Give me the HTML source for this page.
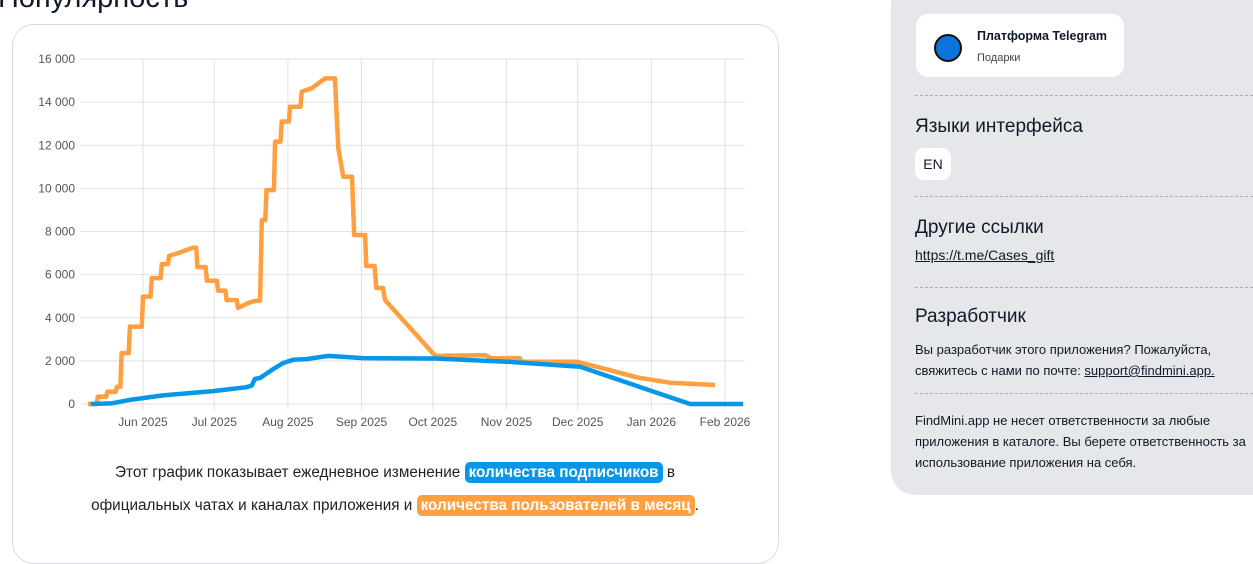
<!DOCTYPE html>
<html><head><meta charset="utf-8">
<style>
*{margin:0;padding:0;box-sizing:border-box}
body{width:1253px;height:531px;overflow:hidden;background:#fff;font-family:"Liberation Sans","DejaVu Sans",sans-serif;color:#111827;position:relative}
.abs{position:absolute}
.title{left:-2px;top:-18px;font-size:29px;white-space:nowrap}
.card{left:12px;top:24px;width:767px;height:540px;border:1px solid #d9dbe0;border-radius:22px}
.panel{left:891px;top:-20px;width:400px;height:515px;background:#e5e7eb;border-radius:24px}
.dash{left:915px;width:338px;border-top:1px dashed #a8adb5;height:0}
.h{left:915px;font-size:19px;color:#111827;white-space:nowrap}
.p{left:915px;font-size:13px;line-height:21px;color:#111827;width:340px}
.pill{color:#fff;border-radius:5px;padding:2px 4px;font-weight:bold}
.cap{left:20px;width:750px;text-align:center;font-size:15.3px;color:#222;white-space:nowrap}
</style></head><body>
<div class="abs title">Популярность</div>
<div class="abs card"></div>
<svg class="abs" style="left:0;top:0" width="790" height="440" id="chart"></svg>
<div class="abs cap" style="top:464px">Этот график показывает ежедневное изменение <span class="pill" style="background:#0896e6">количества подписчиков</span> в</div>
<div class="abs cap" style="top:497px">официальных чатах и каналах приложения и <span class="pill" style="background:#ff9f40">количества пользователей в месяц</span>.</div>

<div class="abs panel"></div>
<div class="abs" style="left:916px;top:14px;width:208px;height:63px;background:#fff;border-radius:12px">
  <div class="abs" style="left:18px;top:20px;width:28px;height:28px;border-radius:50%;background:#0a74d9;border:2px solid #111"></div>
  <div class="abs" style="left:61px;top:15px;font-size:12.5px;font-weight:bold;white-space:nowrap">Платформа Telegram</div>
  <div class="abs" style="left:61px;top:38px;font-size:11px;color:#444">Подарки</div>
</div>
<div class="abs dash" style="top:95px"></div>
<div class="abs h" style="top:116px">Языки интерфейса</div>
<div class="abs" style="left:915px;top:148px;width:36px;height:32px;background:#fff;border-radius:9px;font-size:14px;line-height:32px;text-align:center">EN</div>
<div class="abs dash" style="top:196px"></div>
<div class="abs h" style="top:217px">Другие ссылки</div>
<div class="abs p" style="top:245px;font-size:14px;text-decoration:underline">https://t.me/Cases_gift</div>
<div class="abs dash" style="top:287px"></div>
<div class="abs h" style="top:306px">Разработчик</div>
<div class="abs p" style="top:339px">Вы разработчик этого приложения? Пожалуйста, свяжитесь с нами по почте: <span style="text-decoration:underline">support@findmini.app.</span></div>
<div class="abs dash" style="top:393px"></div>
<div class="abs p" style="top:410px">FindMini.app не несет ответственности за любые приложения в каталоге. Вы берете ответственность за использование приложения на себя.</div>

<script>
const yTicks=[0,2000,4000,6000,8000,10000,12000,14000,16000];
const yTickLabels=["0","2 000","4 000","6 000","8 000","10 000","12 000","14 000","16 000"];
const monthDays=[31,61,92,123,153,184,214,245,276];
const monthLabels=["Jun 2025","Jul 2025","Aug 2025","Sep 2025","Oct 2025","Nov 2025","Dec 2025","Jan 2026","Feb 2026"];
// days since May 1 2025
const usersDays=[7.8,11.5,12,15.5,16,19.5,20,21.5,22,25,25.5,30.5,31,34.2,34.7,38.4,38.9,41.5,42,46.6,52,53.4,53.9,57.4,57.9,62.1,62.6,65.7,66.2,70.5,71,74.6,77.3,80.3,81,82.5,83,86.1,86.6,88.9,89.4,92.4,92.9,97.3,97.8,102,107.6,111.8,113.2,115.3,119,119.9,124.5,125,128.5,129.2,132,132.9,154,175,177.6,189.7,190.3,196.7,213.5,224.8,238.8,252.8,271.8];
const usersVals=[0,0,340,340,570,570,800,800,2360,2360,3590,3590,4980,4980,5840,5840,6490,6490,6870,7030,7250,7250,6350,6350,5720,5720,5260,5260,4820,4820,4450,4650,4760,4800,8530,8530,9920,9920,12170,12170,13100,13100,13790,13790,14490,14640,15100,15100,11870,10540,10540,7840,7840,6400,6400,5380,5380,4820,2230,2270,2120,2130,1960,1960,1960,1650,1240,990,880];
const subsDays=[9,17.6,25.5,39.4,60.5,74.6,76.7,78.1,80.3,85.8,90,94.2,99.8,109,123.6,154,184,215,261.3,283.6];
const subsVals=[0,30,190,400,600,780,850,1160,1210,1620,1900,2050,2080,2230,2130,2110,1960,1730,0,0];

const svg=document.getElementById('chart');
const NS='http://www.w3.org/2000/svg';
const X0=80,X1=745,Y0=404,Y1=59;
const xs=d=>143+(d-31)*(582/245);
const ys=v=>Y0-(v/16000)*(Y0-Y1);
function mk(t,a){const e=document.createElementNS(NS,t);for(const k in a)e.setAttribute(k,a[k]);svg.appendChild(e);return e;}
yTicks.forEach((v,i)=>{
  const l=mk('line',{x1:X0,x2:X1,y1:ys(v),y2:ys(v),stroke:'#e2e2e2','stroke-width':1});
  
  
  const t=mk('text',{x:75,y:ys(v)+4,'text-anchor':'end','font-size':12,fill:'#555','font-family':'Liberation Sans, sans-serif'});
  t.textContent=yTickLabels[i];
  
  
});
monthDays.forEach((d,i)=>{
  const l=mk('line',{x1:xs(d),x2:xs(d),y1:Y1,y2:Y0+6,stroke:'#e2e2e2','stroke-width':1});
  
  
  const t=mk('text',{x:xs(d),y:426,'text-anchor':'middle','font-size':12,fill:'#555','font-family':'Liberation Sans, sans-serif'});
  t.textContent=monthLabels[i];
  
  
});
function line(days,vals,color,name){
  const pts=days.map((d,i)=>xs(d).toFixed(1)+','+ys(vals[i]).toFixed(1)).join(' ');
  const p=mk('polyline',{points:pts,fill:'none',stroke:color,'stroke-width':4.5,'stroke-linejoin':'round'});
  
  
}
line(usersDays,usersVals,'#ff9f40','monthly-users-line');
line(subsDays,subsVals,'#0896e6','subscribers-line');
</script>
</body></html>
